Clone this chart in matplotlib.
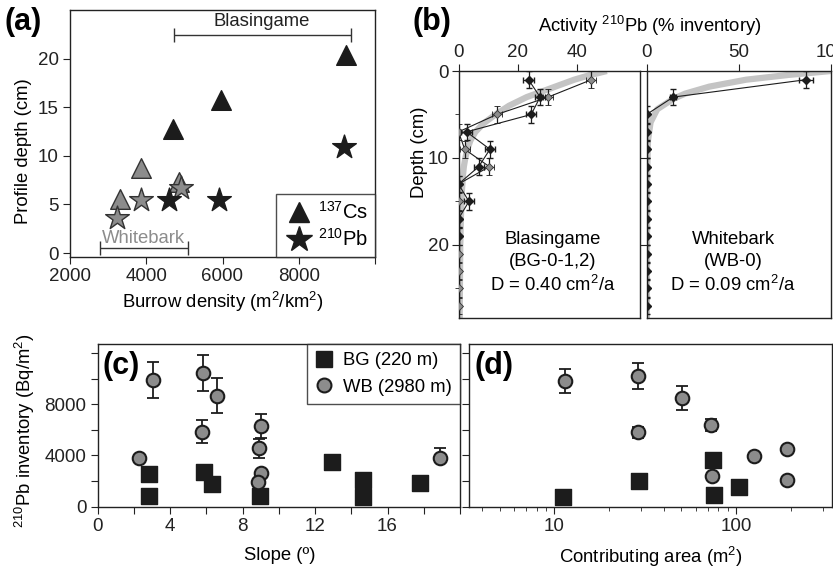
import matplotlib
matplotlib.use('Agg')
import matplotlib.pyplot as plt
from matplotlib.lines import Line2D
from matplotlib.ticker import FixedLocator, NullFormatter

plt.rcParams['font.family'] = ['Liberation Sans', 'DejaVu Sans']
plt.rcParams['mathtext.fontset'] = 'custom'
plt.rcParams['mathtext.rm'] = 'Liberation Sans'
plt.rcParams['mathtext.it'] = 'Liberation Sans:italic'
plt.rcParams['mathtext.bf'] = 'Liberation Sans:bold'
plt.rcParams['axes.linewidth'] = 1.0
plt.rcParams['axes.edgecolor'] = '#222222'
plt.rcParams['xtick.color'] = '#222222'
plt.rcParams['ytick.color'] = '#222222'
plt.rcParams['xtick.labelcolor'] = '#222222'
plt.rcParams['ytick.labelcolor'] = '#222222'
plt.rcParams['font.size'] = 13.3

BLACK = '#1c1c1c'
GRAY = '#8c8c8c'
CURVE = '#c4c4c4'
FS = 13.3      # labels / annotations
TFS = 13.5     # tick labels
PFS = 22       # panel letters

# (a) profile depth vs burrow density
bg_cs_density = [4700, 5950, 9250]
bg_cs_depth = [12.8, 15.7, 20.4]
wb_cs_density = [3300, 3850, 4850]
wb_cs_depth = [5.6, 8.8, 7.3]
bg_pb_density = [4600, 5900, 9180]
bg_pb_depth = [5.5, 5.5, 10.9]
wb_pb_density = [3230, 3850, 4900]
wb_pb_depth = [3.6, 5.5, 6.7]

# (b) 210Pb activity profiles (% inventory)
bg_depth = [1, 3, 5, 7, 9, 11, 13, 15, 17, 19, 21, 23, 25, 27]
bg1_activity = [44.8, 30.2, 12.9, 0, 2.1, 10.4, 0, 0, 0, 0, 0, 0, 0, 0]
bg1_xerr = [1.7, 1.7, 1.7, 0, 1.7, 1.7, 0, 0, 0, 0, 0, 0, 0, 0]
bg2_depth = [1, 3, 5, 7, 9, 11, 13, 15, 17, 19]
bg2_activity = [23.6, 27.5, 24.5, 2.7, 10.6, 6.8, 0, 3.5, 0, 0]
bg2_xerr = [1.7, 1.7, 1.7, 1.7, 1.7, 1.7, 0, 1.7, 0, 0]
bg_model_depth = [0, 0.5, 1, 2, 3, 4, 5, 6, 7, 8, 9, 10, 11, 12, 14, 17, 20, 24, 28.4]
bg_model_activity = [50, 44, 39, 31, 23, 17, 12.5, 8.5, 5.7, 4.0, 3.0, 2.3, 1.8,
                     1.5, 1.1, 0.8, 0.6, 0.5, 0.4]

wb_depth = [1, 3, 5, 7, 9, 11, 13, 15, 17, 19, 21, 23, 25, 27]
wb_activity = [86.5, 14.5, 0, 0, 0, 0, 0, 0, 0, 0, 0, 0, 0, 0]
wb_xerr = [4, 1.5, 0, 0, 0, 0, 0, 0, 0, 0, 0, 0, 0, 0]
wb_model_depth = [0, 0.45, 1.0, 1.8, 2.6, 3.2, 4.4, 5.9, 8, 12, 28.4]
wb_model_activity = [100, 77, 54, 34, 21, 14.5, 5.8, 2.2, 0.8, 0.3, 0.2]

# (c) inventory vs slope
bg_slope = [2.85, 2.85, 5.85, 6.3, 8.95, 12.95, 14.65, 14.65, 17.8]
bg_inv_slope = [2530, 830, 2680, 1770, 830, 3520, 2080, 780, 1820]
wb_slope = [2.3, 3.05, 5.8, 6.6, 5.75, 9.0, 8.9, 9.0, 8.85, 18.9]
wb_inv_slope = [3780, 9900, 10420, 8680, 5860, 6300, 4560, 2600, 1950, 3780]
wb_slope_err_lo = [0, 1400, 1400, 1400, 900, 900, 750, 0, 0, 0]
wb_slope_err_hi = [0, 1400, 1400, 1400, 900, 900, 750, 0, 0, 830]

# (d) inventory vs contributing area
bg_area = [11.1, 29.3, 74.8, 75.3, 104]
bg_inv_area = [780, 2010, 3650, 910, 1560]
wb_area = [11.5, 29, 50.5, 73, 29, 74, 126, 191, 191]
wb_inv_area = [9820, 10220, 8500, 6380, 5810, 2420, 3990, 4510, 2090]
wb_area_err = [950, 1000, 950, 450, 450, 0, 0, 0, 0]

W, H = 833, 568
fig = plt.figure(figsize=(W / 100, H / 100), dpi=100)


def px_axes(left, top, right, bottom):
    return fig.add_axes([left / W, 1 - bottom / H, (right - left) / W, (bottom - top) / H])


# ---------------- (a)
ax = px_axes(70, 10, 375, 257)
ax.scatter(bg_cs_density, bg_cs_depth, marker='^', s=200, color=BLACK, edgecolor=BLACK, zorder=3)
ax.scatter(wb_cs_density, wb_cs_depth, marker='^', s=200, color=GRAY, edgecolor='#333333', lw=1, zorder=3)
ax.scatter(wb_pb_density, wb_pb_depth, marker='*', s=320, color=GRAY, edgecolor='#333333', lw=1, zorder=4)
ax.scatter(bg_pb_density, bg_pb_depth, marker='*', s=320, color=BLACK, edgecolor=BLACK, zorder=4)
ax.errorbar(7055, 22.4, xerr=2320, color='#333333', lw=1, capsize=5, capthick=1)
ax.text(7030, 23.8, 'Blasingame', ha='center', va='center', fontsize=FS, color='#222222')
ax.errorbar(3945, 0.55, xerr=1160, color='#333333', lw=1, capsize=5, capthick=1)
ax.text(3920, 1.5, 'Whitebark', ha='center', va='center', fontsize=FS, color=GRAY)
ax.set_xlim(2000, 10000)
ax.set_ylim(-0.4, 25)
ax.set_xticks([2000, 4000, 6000, 8000, 10000], ['2000', '4000', '6000', '8000', ''])
ax.set_yticks([0, 5, 10, 15, 20])
ax.tick_params(labelsize=TFS, length=5, pad=3)
ax.set_xlabel('Burrow density (m$^2$/km$^2$)', fontsize=FS)
ax.xaxis.set_label_coords(0.5, -0.135)
ax.set_ylabel('Profile depth (cm)', fontsize=FS)
ax.yaxis.set_label_coords(-0.125, 0.43)
hs = [Line2D([], [], marker='^', ls='none', ms=14, color=BLACK),
      Line2D([], [], marker='*', ls='none', ms=19, color=BLACK)]
leg = ax.legend(hs, ['$^{137}$Cs', '$^{210}$Pb'], loc='lower right', borderaxespad=0,
                fontsize=14.5, handletextpad=0.15, handlelength=1.6, borderpad=0.35,
                labelspacing=0.25, fancybox=False, edgecolor='#222222')
leg.get_frame().set_linewidth(1)
fig.text(4 / W, 1 - 22 / H, '(a)', fontsize=PFS, fontweight='bold', va='center')

# ---------------- (b)
axl = px_axes(458.5, 71, 639.5, 318)
axr = px_axes(646.5, 71, 831, 318)
axl.plot(bg_model_activity, bg_model_depth, color=CURVE, lw=4.5, solid_capstyle='butt', zorder=1)
axl.errorbar(bg1_activity, bg_depth, xerr=bg1_xerr, yerr=0.95, fmt='-D', ms=4.2, color=BLACK,
             mfc=GRAY, mec='#333333', mew=0.6, lw=0.8, elinewidth=0.9, capsize=2.5, zorder=3)
axl.errorbar(bg2_activity, bg2_depth, xerr=bg2_xerr, yerr=0.95, fmt='-D', ms=4.2, color=BLACK,
             mfc=BLACK, mec=BLACK, lw=0.8, elinewidth=0.9, capsize=2.5, zorder=4)
axl.set_xlim(0, 61)
axl.set_ylim(28.4, 0)
axl.xaxis.tick_top()
axl.set_xticks([0, 20, 40])
axl.set_yticks([0, 10, 20])
axl.yaxis.set_minor_locator(FixedLocator([5, 15, 25]))
axl.tick_params(labelsize=TFS, length=5, pad=2)
axl.tick_params(which='minor', length=3)
axl.text(0.52, 0.222, 'Blasingame\n(BG-0-1,2)\nD = 0.40 cm$^2$/a', transform=axl.transAxes,
         ha='center', va='center', fontsize=FS, linespacing=1.35)

axr.plot(wb_model_activity, wb_model_depth, color=CURVE, lw=4.5, solid_capstyle='butt', zorder=1)
axr.errorbar(wb_activity, wb_depth, xerr=wb_xerr, yerr=0.95, fmt='-D', ms=4.2, color=BLACK,
             mfc=BLACK, mec=BLACK, lw=0.8, elinewidth=0.9, capsize=2.5, zorder=4)
axr.set_xlim(0, 100)
axr.set_ylim(28.4, 0)
axr.xaxis.tick_top()
axr.set_xticks([0, 50, 100])
axr.set_yticks([0, 10, 20])
axr.yaxis.set_major_formatter(NullFormatter())
axr.tick_params(labelsize=TFS, length=5, pad=2)
axr.text(0.47, 0.222, 'Whitebark\n(WB-0)\nD = 0.09 cm$^2$/a', transform=axr.transAxes,
         ha='center', va='center', fontsize=FS, linespacing=1.35)

fig.text(650 / W, 1 - 26 / H, 'Activity $^{210}$Pb (% inventory)', ha='center', va='center', fontsize=FS)
fig.text(420 / W, 1 - 152 / H, 'Depth (cm)', rotation=90, ha='center', va='center', fontsize=FS)
fig.text(413 / W, 1 - 22 / H, '(b)', fontsize=PFS, fontweight='bold', va='center')

# ---------------- (c)
axc = px_axes(97.7, 344, 460, 506.7)
axc.scatter(bg_slope, bg_inv_slope, marker='s', s=120, color=BLACK, zorder=3)
axc.errorbar(wb_slope, wb_inv_slope, yerr=[wb_slope_err_lo, wb_slope_err_hi], fmt='none',
             ecolor=BLACK, elinewidth=1.3, capsize=4, capthick=1.3, zorder=2)
axc.scatter(wb_slope, wb_inv_slope, marker='o', s=95, color=GRAY, edgecolor=BLACK, lw=1.5, zorder=4)
axc.set_xlim(0, 20)
axc.set_ylim(0, 12700)
axc.set_xticks(range(0, 21, 2), ['0', '', '4', '', '8', '', '12', '', '16', '', ''])
axc.set_yticks(range(0, 12001, 2000), ['0', '', '4000', '', '8000', '', ''])
axc.tick_params(labelsize=TFS, length=5, pad=3)
axc.set_xlabel('Slope (º)', fontsize=FS)
axc.xaxis.set_label_coords(0.503, -0.25)
axc.set_ylabel('$^{210}$Pb inventory (Bq/m$^2$)', fontsize=FS)
axc.yaxis.set_label_coords(-0.168, 0.47)
hs = [Line2D([], [], marker='s', ls='none', ms=11, color=BLACK),
      Line2D([], [], marker='o', ls='none', ms=10, mfc=GRAY, mec=BLACK, mew=1.5)]
leg = axc.legend(hs, ['BG (220 m)', 'WB (2980 m)'], loc='upper right', borderaxespad=0,
                 fontsize=FS, handletextpad=0.49, handlelength=1.0, borderpad=0.46,
                 labelspacing=0.5, fancybox=False, edgecolor='#222222')
leg.get_frame().set_linewidth(1)
axc.text(0.013, 0.955, '(c)', transform=axc.transAxes, fontsize=PFS, fontweight='bold',
         va='top', ha='left')

# ---------------- (d)
axd = px_axes(469.3, 344, 832, 506.7)
axd.set_xscale('log')
axd.scatter(bg_area, bg_inv_area, marker='s', s=120, color=BLACK, zorder=3)
axd.errorbar(wb_area, wb_inv_area, yerr=wb_area_err, fmt='none', ecolor=BLACK,
             elinewidth=1.3, capsize=4, capthick=1.3, zorder=2)
axd.scatter(wb_area, wb_inv_area, marker='o', s=95, color=GRAY, edgecolor=BLACK, lw=1.5, zorder=4)
axd.set_xlim(3.4, 338)
axd.set_ylim(0, 12700)
axd.set_yticks(range(0, 12001, 2000))
axd.yaxis.set_major_formatter(NullFormatter())
axd.set_xticks([10, 100], ['10', '100'])
axd.tick_params(labelsize=TFS, length=5, pad=3)
axd.tick_params(which='minor', length=3)
axd.set_xlabel('Contributing area (m$^2$)', fontsize=FS)
axd.xaxis.set_label_coords(0.5, -0.232)
axd.text(0.013, 0.955, '(d)', transform=axd.transAxes, fontsize=PFS, fontweight='bold',
         va='top', ha='left')

fig.savefig('out.png', dpi=100)
